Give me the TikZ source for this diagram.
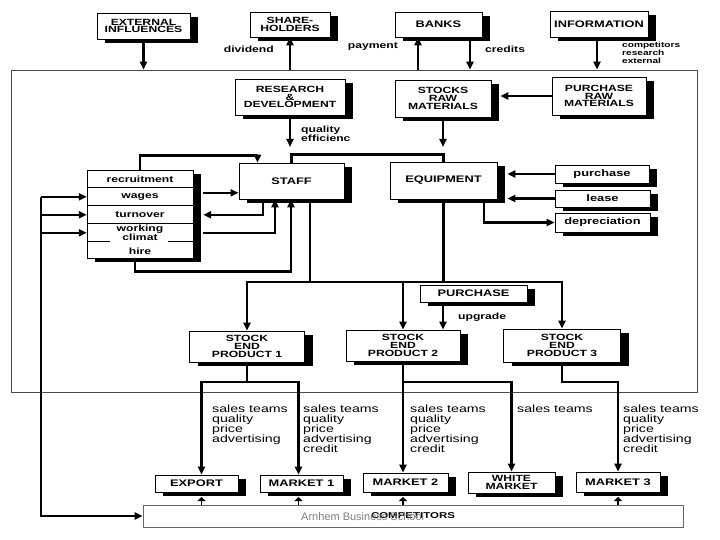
\documentclass[tikz,border=0pt]{standalone}
\usepackage{fontspec}
\setmainfont{Liberation Sans}[FakeStretch=1.35]
\newfontfamily\markfont{Liberation Sans}
\usetikzlibrary{arrows.meta, shadows, positioning}
\tikzset{
  sz/.style 2 args={minimum width=#1pt, minimum height=#2pt},
  box/.style={
      draw=black,
      fill=white,
      line width=0.8pt,
      rectangle,
      inner sep=0pt,
      align=center,
      font=\fontsize{9.5}{9}\selectfont\bfseries,
      drop shadow={shadow xshift=8pt, shadow yshift=-4pt, fill=black, opacity=1}
  },
  tri/.style={box, font=\fontsize{9}{7.8}\selectfont\bfseries},
  row/.style={
      rectangle,
      inner sep=0pt,
      minimum width=106pt,
      minimum height=17.6pt,
      align=center,
      font=\fontsize{9}{7.5}\selectfont\bfseries
  },
  lbl/.style={inner sep=0pt, align=left, font=\fontsize{9}{8}\selectfont\bfseries},
  sales/.style={inner sep=0pt, anchor=north west, align=left, font=\fontsize{10.5}{9.8}\selectfont},
  frame/.style={draw=black!70, line width=0.7pt, inner sep=0pt},
  sep/.style={line width=0.8pt},
  wire/.style={line width=2.2pt},
  arrow/.style={wire, -{Triangle[length=8pt,width=7pt]}},
  tick/.style={line width=1.2pt, -{Triangle[length=4pt,width=8pt]}}
}
\begin{document}
\begin{tikzpicture}[x=1pt, y=-1pt]
      \useasboundingbox (0,0) rectangle (720,540);
      % Company frame
      \node[frame, sz={686}{322}] (frame) at (354,231) {};

      % Outside world
      \node[tri, sz={93}{26}] (ext) at (143.5,26) {EXTERNAL\\INFLUENCES};
      \node[tri, sz={80}{25}] (share) at (290,24.5) {SHARE-\\HOLDERS};
      \node[box, sz={87}{25}] (banks) at (438.5,24.5) {BANKS};
      \node[box, sz={98}{26}] (info) at (599,24) {INFORMATION};

      % Research and raw materials
      \node[tri, sz={110}{36}] (rd) at (290,97) {RESEARCH\\\&\\DEVELOPMENT};
      \node[tri, sz={96}{37}] (srm) at (443,98.5) {STOCKS\\RAW\\MATERIALS};
      \node[tri, sz={94}{38}] (prm) at (599,96) {PURCHASE\\RAW\\MATERIALS};

      % Staff and equipment
      \node[box, sz={105}{36}] (staff) at (291.5,181) {STAFF};
      \node[box, sz={107}{37}] (equip) at (443.5,180.5) {EQUIPMENT};

      % Personnel list
      \node[box, sz={106}{88}] (hr) at (140,214) {};
      \node[row] (recr) at (140,178.8) {recruitment};
      \node[row, below=0pt of recr] (wages) {wages};
      \node[row, below=0pt of wages] (turn) {turnover};
      \node[row, below=0pt of turn] (work) {working\\climat};
      \node[row, below=0pt of work] (hire) {hire};
      \draw[sep] (recr.south west) -- (recr.south east);
      \draw[sep] (wages.south west) -- (wages.south east);
      \draw[sep] (turn.south west) -- (turn.south east);
      \draw[sep] (work.south west) -- ++(23,0);
      \draw[sep] (work.south east) -- ++(-25,0);

      % Equipment sources
      \node[box, sz={94}{18}] (buy) at (602,174) {purchase};
      \node[box, sz={95}{17}] (lease) at (602.5,198.5) {lease};
      \node[box, sz={95}{19}] (depr) at (602.5,222.5) {depreciation};

      % End products
      \node[box, sz={107}{17}] (upg) at (473.5,293.5) {PURCHASE};
      \node[tri, sz={115}{31}] (sep1) at (247,346.5) {STOCK\\END\\PRODUCT 1};
      \node[tri, sz={114}{31}] (sep2) at (403,345.5) {STOCK\\END\\PRODUCT 2};
      \node[tri, sz={117}{33}] (sep3) at (562,345.5) {STOCK\\END\\PRODUCT 3};

      % Markets
      \node[box, sz={83}{17}] (export) at (196.5,483.5) {EXPORT};
      \node[box, sz={83}{17}] (mkt1) at (301.5,483.5) {MARKET 1};
      \node[box, sz={85}{19}] (mkt2) at (405.5,482.5) {MARKET 2};
      \node[tri, sz={87}{21}] (white) at (511.5,482.5) {WHITE\\MARKET};
      \node[box, sz={84}{20}] (mkt3) at (618,482) {MARKET 3};
      \node[frame, draw=black!60, sz={540}{22}, font=\fontsize{8.5}{8.5}\selectfont\bfseries] (comp) at (413,516) {COMPETITORS};
      \node[inner sep=0pt, anchor=west, text=black!50, font=\markfont\fontsize{11}{11}\selectfont] (mark) at (301,517) {Arnhem Business School};

      % Labels
      \node[lbl, anchor=east] (divl) at (274,49) {dividend};
      \node[lbl, anchor=east] (payl) at (398,47) {payment};
      \node[lbl, anchor=west] (credl) at (485,49) {credits};
      \node[lbl, anchor=west, font=\fontsize{7.5}{8}\selectfont\bfseries] (infol) at (622,53) {competitors\\research\\external};
      \node[lbl, anchor=west] (qual) at (301,134) {quality\\efficienc};
      \node[lbl, anchor=west] (upgl) at (458,317) {upgrade};
      \node[sales] (s1) at (212,405) {sales teams\\quality\\price\\advertising};
      \node[sales] (s2) at (303,405) {sales teams\\quality\\price\\advertising\\credit};
      \node[sales] (s3) at (410,405) {sales teams\\quality\\price\\advertising\\credit};
      \node[sales] (s4) at (517,405) {sales teams};
      \node[sales] (s5) at (623,405) {sales teams\\quality\\price\\advertising\\credit};

      % Outside world connections
      \draw[arrow] (ext.south) -- (ext.south |- frame.north);
      \draw[arrow] (share.south |- frame.north) -- (share.south);
      \draw[arrow] ([xshift=-20.5pt]banks.south |- frame.north) -- ([xshift=-20.5pt]banks.south);
      \draw[arrow] ([xshift=31.5pt]banks.south) -- ([xshift=31.5pt]banks.south |- frame.north);
      \draw[arrow] ([xshift=-2pt]info.south) -- ([xshift=-2pt]info.south |- frame.north);

      % Research and materials
      \coordinate (bus) at (0,147);
      \draw[arrow] (prm.west) -- ([xshift=9pt]srm.east |- prm.west);
      \draw[arrow] (rd.south) -- (rd.south |- bus);
      \draw[arrow] (srm.south) -- (srm.south |- bus);
      \draw[wire] (staff.north) -- ++(0,-8) -| (equip.north);

      % Staff and personnel
      \draw[arrow] (hr.north) -- ++(0,-14) -| ([xshift=-34pt]staff.north);
      \draw[arrow] ([xshift=10pt,yshift=4pt]wages.east) coordinate (w1) -- (staff.west |- w1);
      \draw[arrow] ([xshift=-28.5pt]staff.south) |- ([xshift=10pt]turn.east);
      \draw[arrow] ([xshift=10pt]work.east) -| ([xshift=-16.5pt]staff.south);
      \draw[arrow] ([xshift=-5pt]hr.south) -- ++(0,13) -| ([xshift=-0.5pt]staff.south);

      % Equipment
      \draw[arrow] (buy.west) -- ([xshift=10pt]equip.east |- buy.west);
      \draw[arrow] (lease.west) -- ([xshift=10pt]equip.east |- lease.west);
      \draw[arrow] ([xshift=40.5pt]equip.south) |- (depr.west);

      % Feedback from competitors
      \coordinate (fb) at (41,0);
      \draw[arrow] (fb |- wages.west) |- (comp.west);
      \draw[arrow] (fb |- wages.west) -- (wages.west);
      \draw[arrow] (fb |- turn.west) -- (turn.west);
      \draw[arrow] (fb |- work.west) -- (work.west);

      % To end products
      \coordinate (dist) at (0,282);
      \draw[wire] ([xshift=18.5pt]staff.south) -- ([xshift=18.5pt]staff.south |- dist);
      \draw[wire] (equip.south) -- (equip.south |- dist);
      \draw[arrow] (sep2.north |- dist) -| (sep1.north);
      \draw[arrow] (sep2.north |- dist) -| (sep3.north);
      \draw[arrow] (sep2.north |- dist) -- (sep2.north);
      \draw[arrow] ([xshift=-30.5pt]upg.south) -- ([xshift=-30.5pt]upg.south |- sep2.north);

      % To markets
      \coordinate (mk) at (0,382);
      \coordinate (e1) at ([xshift=5pt]export.north);
      \coordinate (m1) at ([xshift=-3pt]mkt1.north);
      \draw[arrow] (sep1.south) |- (m1 |- mk) -- (m1);
      \draw[arrow] (sep1.south |- mk) -| (e1);
      \draw[arrow] (sep2.south) -- (sep2.south |- mkt2.north);
      \draw[arrow] (sep2.south |- mk) -| (white.north);
      \draw[arrow] (sep3.south) |- (mkt3.north |- mk) -- (mkt3.north);

      % Competitors
      \coordinate (ct) at (0,497);
      \draw[tick] (e1 |- comp.north) -- (e1 |- ct);
      \draw[tick] (m1 |- comp.north) -- (m1 |- ct);
      \draw[tick] (sep2.south |- comp.north) -- (sep2.south |- ct);
      \draw[tick] (mkt3.south |- comp.north) -- (mkt3.south |- ct);
    \end{tikzpicture}
\end{document}
